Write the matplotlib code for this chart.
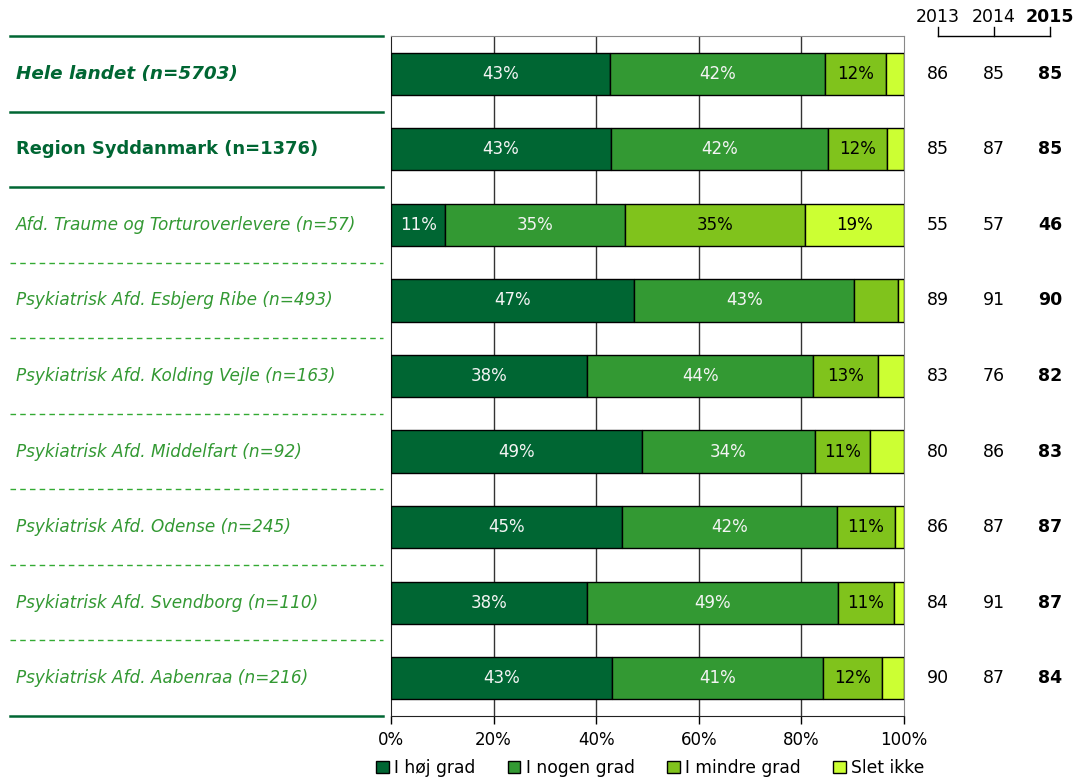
import matplotlib
matplotlib.use("Agg")
import matplotlib.pyplot as plt
from matplotlib.lines import Line2D
from matplotlib.patches import Patch
from matplotlib.transforms import blended_transform_factory

units = [
    "Hele landet (n=5703)",
    "Region Syddanmark (n=1376)",
    "Afd. Traume og Torturoverlevere (n=57)",
    "Psykiatrisk Afd. Esbjerg Ribe (n=493)",
    "Psykiatrisk Afd. Kolding Vejle (n=163)",
    "Psykiatrisk Afd. Middelfart (n=92)",
    "Psykiatrisk Afd. Odense (n=245)",
    "Psykiatrisk Afd. Svendborg (n=110)",
    "Psykiatrisk Afd. Aabenraa (n=216)",
]
categories = ["I høj grad", "I nogen grad", "I mindre grad", "Slet ikke"]
hoej = [42.6, 42.9, 10.6, 47.4, 38.2, 48.9, 45.0, 38.2, 43.1]
nogen = [42.0, 42.3, 35.0, 42.9, 44.1, 33.8, 41.9, 48.9, 41.1]
mindre = [11.9, 11.5, 35.1, 8.5, 12.6, 10.7, 11.3, 11.0, 11.5]
slet = [3.5, 3.3, 19.3, 1.2, 5.1, 6.6, 1.8, 1.9, 4.3]
years = ["2013", "2014", "2015"]
score_2013 = [86, 85, 55, 89, 83, 80, 86, 84, 90]
score_2014 = [85, 87, 57, 91, 76, 86, 87, 91, 87]
score_2015 = [85, 85, 46, 90, 82, 83, 87, 87, 84]

colors = ["#006633", "#339933", "#80c31c", "#ccff33"]
text_colors = ["#f4f4f4", "#f4f4f4", "black", "black"]
dark = "#006633"
light = "#339933"

fig = plt.figure(figsize=(10.74, 7.79), dpi=100)
ax = fig.add_axes([391 / 1074, 1 - 716 / 779, 513 / 1074, 680 / 779])

n = len(units)
ypos = list(range(n))
left = [0.0] * n
for series, col, tcol in zip([hoej, nogen, mindre, slet], colors, text_colors):
    ax.barh(ypos, series, left=left, height=0.56, color=col,
            edgecolor="black", linewidth=1, zorder=3)
    for i, v in enumerate(series):
        if v >= 10:
            ax.text(left[i] + v / 2, i, f"{round(v)}%", ha="center", va="center",
                    color=tcol, fontsize=12, zorder=4)
    left = [a + b for a, b in zip(left, series)]

ax.set_xlim(0, 100)
ax.set_ylim(n - 0.5, -0.5)
ax.set_xticks([0, 20, 40, 60, 80, 100])
ax.set_xticklabels([f"{t}%" for t in [0, 20, 40, 60, 80, 100]], fontsize=12)
ax.set_yticks([])
ax.tick_params(axis="x", length=6, width=1, direction="out", pad=5)
for x in [20, 40, 60, 80]:
    ax.axvline(x, color="#333333", linewidth=1, zorder=1)
ax.spines["top"].set_color("#888888")
ax.spines["right"].set_color("#888888")
ax.spines["left"].set_color("#222222")
ax.spines["bottom"].set_color("#222222")

# labels on the left, lines between rows
trans = blended_transform_factory(fig.transFigure, ax.transData)
for i, name in enumerate(units):
    if i == 0:
        kw = dict(color=dark, fontweight="bold", fontstyle="italic", fontsize=13.2)
    elif i == 1:
        kw = dict(color=dark, fontweight="bold", fontsize=12.9)
    else:
        kw = dict(color=light, fontstyle="italic", fontsize=12.2)
    fig.text(16 / 1074, i, name, transform=trans, va="center", ha="left", **kw)

for b in [-0.5, 0.5, 1.5, n - 0.5]:
    fig.add_artist(Line2D([10 / 1074, 383 / 1074], [b, b], transform=trans,
                          color=dark, linewidth=1.8))
for b in range(2, n - 1):
    fig.add_artist(Line2D([10 / 1074, 383 / 1074], [b + 0.5, b + 0.5], transform=trans,
                          color="#33aa33", linewidth=1, linestyle=(0, (4, 3))))

# year columns
col_x = [938 / 1074, 994 / 1074, 1050 / 1074]
for j, (yr, vals) in enumerate(zip(years, [score_2013, score_2014, score_2015])):
    w = "bold" if j == 2 else "normal"
    fig.text(col_x[j], 1 - 17 / 779, yr, ha="center", va="center", fontsize=12.5, fontweight=w)
    for i, v in enumerate(vals):
        fig.text(col_x[j], i, str(v), transform=trans, ha="center", va="center",
                 fontsize=12.5, fontweight=w)
yb = 1 - 36 / 779
yt = 1 - 27 / 779
fig.add_artist(Line2D([col_x[0], col_x[2]], [yb, yb], color="black", linewidth=1))
for cx in col_x:
    fig.add_artist(Line2D([cx, cx], [yb, yt], color="black", linewidth=1))

handles = [Patch(facecolor=c, edgecolor="black", linewidth=1) for c in colors]
fig.legend(handles, categories, loc="center", bbox_to_anchor=(650 / 1074, 1 - 768 / 779),
           ncol=4, frameon=False, fontsize=12.3, handlelength=0.75, handleheight=0.75,
           handletextpad=0.3, columnspacing=1.9, borderaxespad=0)

fig.savefig("out.png", dpi=100)
